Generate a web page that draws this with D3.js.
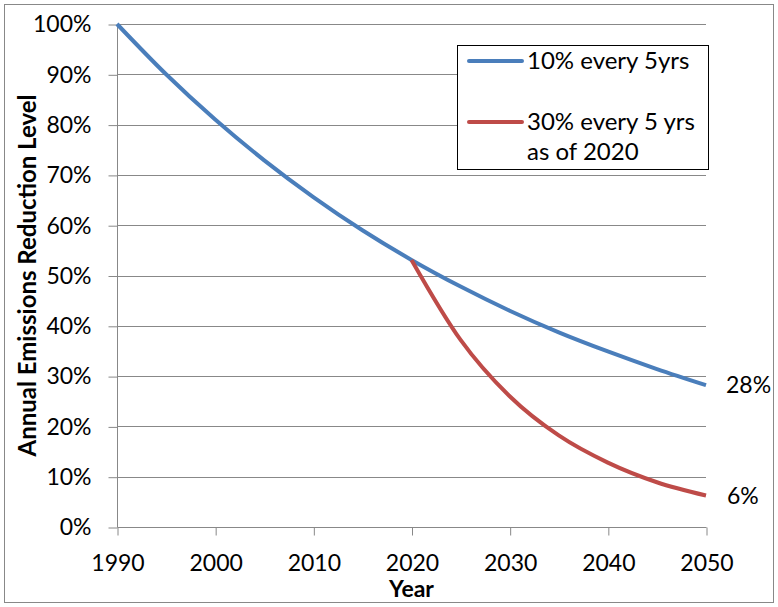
<!DOCTYPE html>
<html>
<head>
<meta charset="utf-8">
<script src="https://cdn.jsdelivr.net/npm/d3@7"></script>
<style>
  body { margin: 0; background: #fff; }
  text { font-family: Lato, "Open Sans", sans-serif; }
</style>
</head>
<body>
<div id="chart"></div>
<script>
// values, every 5 years
const yearsBlue = [1990, 1995, 2000, 2005, 2010, 2015, 2020, 2025, 2030, 2035, 2040, 2045, 2050];
const levelBlue = [1.00, 0.90, 0.81, 0.729, 0.656, 0.59, 0.531, 0.478, 0.43, 0.387, 0.349, 0.314, 0.282];
const yearsRed = [2020, 2025, 2030, 2035, 2040, 2045, 2050];
const levelRed = [0.531, 0.372, 0.26, 0.182, 0.128, 0.089, 0.0625];
const seriesNames = ["10% every 5yrs", "30% every 5 yrs|as of 2020"];
const endLabels = ["28%", "6%"];
const xTicks = [1990, 2000, 2010, 2020, 2030, 2040, 2050];
const yTicks = [0, 0.1, 0.2, 0.3, 0.4, 0.5, 0.6, 0.7, 0.8, 0.9, 1.0];

const W = 778, H = 607;
const margin = { top: 24, right: 72, bottom: 80, left: 117 };
const fs = 23;

const svg = d3.select("#chart").append("svg")
    .attr("width", W)
    .attr("height", H);

// outer chart border
svg.append("rect")
    .attr("x", 4.5).attr("y", 4.5)
    .attr("width", W - 9).attr("height", H - 9)
    .attr("fill", "#fff")
    .attr("stroke", "#888");

const x = d3.scaleLinear()
    .domain([1990, 2050])
    .range([margin.left, 706]);

const y = d3.scaleLinear()
    .domain([0, 1])
    .range([527, margin.top]);

// gridlines
svg.append("g")
    .selectAll("line")
    .data(yTicks.slice(1))
    .join("line")
    .attr("x1", x(1990)).attr("x2", x(2050))
    .attr("y1", d => Math.round(y(d)) + 0.5)
    .attr("y2", d => Math.round(y(d)) + 0.5)
    .attr("stroke", "#888")
    .attr("stroke-width", 1);

// y axis
const yAxis = svg.append("g")
    .attr("transform", `translate(${x(1990) + 0.5},0.5)`)
    .call(d3.axisLeft(y).tickValues(yTicks).tickFormat(d3.format(".0%")).tickSize(9).tickPadding(17));
yAxis.select(".domain").attr("stroke", "#888").attr("d", `M0,${y(1)}V${y(0)}`);
yAxis.selectAll(".tick line").attr("stroke", "#888");
yAxis.selectAll(".tick text")
    .attr("font-size", fs).attr("fill", "#000")
    .attr("font-family", "Lato, 'Open Sans', sans-serif");

// x axis
const xAxis = svg.append("g")
    .attr("transform", `translate(0.5,${Math.round(y(0)) + 0.5})`)
    .call(d3.axisBottom(x).tickValues(xTicks).tickFormat(d3.format("d")).tickSize(8).tickPadding(19));
xAxis.select(".domain").attr("stroke", "#888").attr("d", `M${x(1990)},0H${x(2050)}`);
xAxis.selectAll(".tick line").attr("stroke", "#888");
xAxis.selectAll(".tick text")
    .attr("font-size", fs).attr("fill", "#000")
    .attr("font-family", "Lato, 'Open Sans', sans-serif");

// lines
const line = d3.line()
    .x(d => x(d[0]))
    .y(d => y(d[1]))
    .curve(d3.curveMonotoneX);

const blueData = yearsBlue.map((yr, i) => [yr, levelBlue[i]]);
const redData = yearsRed.map((yr, i) => [yr, levelRed[i]]);
const colors = ["#4a7ebb", "#be4b48"];

svg.append("path")
    .datum(blueData)
    .attr("d", line)
    .attr("fill", "none")
    .attr("stroke", colors[0])
    .attr("stroke-width", 4);

svg.append("path")
    .datum(redData)
    .attr("d", line)
    .attr("fill", "none")
    .attr("stroke", colors[1])
    .attr("stroke-width", 4);

// end labels
svg.append("text")
    .attr("x", 726).attr("y", y(levelBlue[levelBlue.length - 1]) + 8)
    .attr("font-size", fs)
    .text(endLabels[0]);
svg.append("text")
    .attr("x", 727).attr("y", y(levelRed[levelRed.length - 1]) + 8)
    .attr("font-size", fs)
    .text(endLabels[1]);

// axis titles
svg.append("text")
    .attr("transform", `translate(36,${(y(0) + y(1)) / 2}) rotate(-90)`)
    .attr("text-anchor", "middle")
    .attr("font-size", 24)
    .attr("font-weight", "bold")
    .text("Annual Emissions Reduction Level");

svg.append("text")
    .attr("x", (x(1990) + x(2050)) / 2)
    .attr("y", 597)
    .attr("text-anchor", "middle")
    .attr("font-size", fs)
    .attr("font-weight", "bold")
    .text("Year");

// legend
const legend = svg.append("g");
legend.append("rect")
    .attr("x", 457.5).attr("y", 45.5)
    .attr("width", 251).attr("height", 124)
    .attr("fill", "#fff")
    .attr("stroke", "#000");

const legendY = [61, 122];
seriesNames.forEach((name, i) => {
    legend.append("line")
        .attr("x1", 469).attr("x2", 522)
        .attr("y1", legendY[i]).attr("y2", legendY[i])
        .attr("stroke", colors[i])
        .attr("stroke-width", 4)
        .attr("stroke-linecap", "round");
    name.split("|").forEach((part, j) => {
        legend.append("text")
            .attr("x", 527)
            .attr("y", legendY[i] + 8 + j * 30)
            .attr("font-size", 24)
            .text(part);
    });
});
</script>
</body>
</html>
